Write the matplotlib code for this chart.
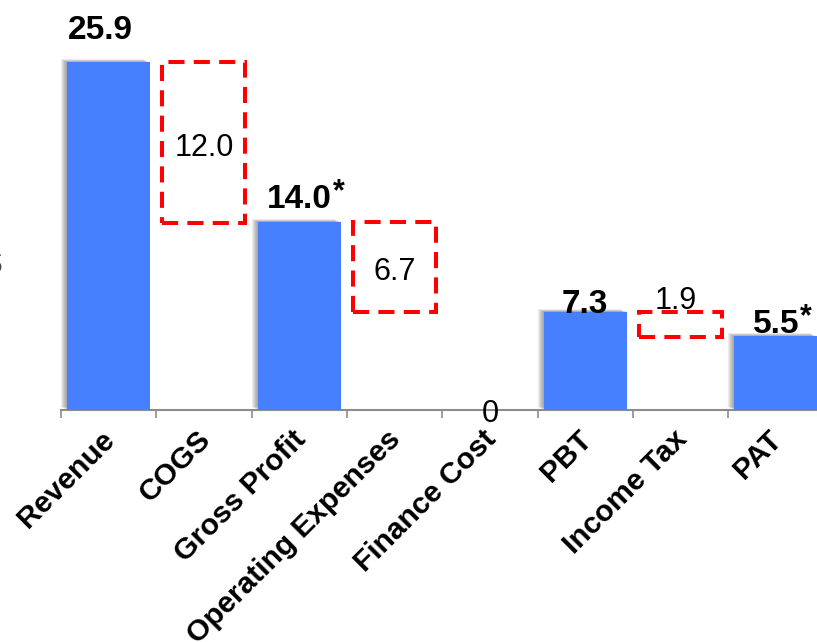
import matplotlib
matplotlib.use("Agg")
import matplotlib.pyplot as plt
from matplotlib.patches import Rectangle
from matplotlib import patheffects as pe
from matplotlib.transforms import ScaledTranslation, offset_copy

plt.rcParams['font.family'] = ['Liberation Sans', 'DejaVu Sans']

# P&L walk (bn)
categories = ['Revenue', 'COGS', 'Gross Profit', 'Operating Expenses',
              'Finance Cost', 'PBT', 'Income Tax', 'PAT']
values = [25.9, 12.0, 14.0, 6.7, 0.0, 7.3, 1.9, 5.5]
kinds = ['total', 'minus', 'total', 'minus', 'minus', 'total', 'minus', 'total']
footnote_marks = ['', '', '*', '', '', '', '', '*']

# label placement (pixels): lift above bar top and horizontal nudge
total_label_lift = [23, 0, 14, 0, 0, -1, 0, 3]
total_label_shift = [-8, 0, 0, 0, 0, 0, 0, 0]

BLUE = '#4680FF'
RED = '#FF0000'
AXIS_GREY = '#8c8c8c'
PX = 72 / 100  # points per pixel at dpi 100

W, H = 817, 642
fig = plt.figure(figsize=(W / 100, H / 100), dpi=100)
slot = 95.3
ax = fig.add_axes([61 / W, 232 / H, 8 * slot / W, 403 / H])
ax.set_xlim(-0.5, 7.5)
ax.set_ylim(0, 30)

bar_w = 0.87
shadow = [pe.SimplePatchShadow(offset=(-k * PX, 0.45 * k * PX), shadow_rgbFace='0.35', alpha=0.11)
          for k in range(1, 7)] + [pe.Normal()]

level = 0.0
for i, (v, kind) in enumerate(zip(values, kinds)):
    if kind == 'total':
        bar = ax.bar(i, v, width=bar_w, color=BLUE, zorder=3)[0]
        bar.set_path_effects(shadow)
        level = v
        tr = offset_copy(ax.transData, fig=fig,
                         x=total_label_shift[i] * PX, y=total_label_lift[i] * PX, units='points')
        t = ax.text(i, v, f'{v:.1f}', transform=tr, ha='center', va='baseline',
                    fontsize=24, fontweight='bold', color='black', zorder=5)
        if footnote_marks[i]:
            ax.annotate(footnote_marks[i], xy=(1, 1), xycoords=t, xytext=(1.0, 5.0),
                        textcoords='offset points', ha='left', va='top',
                        fontsize=22, fontweight='bold', color='black', zorder=5)
    else:
        top = level
        bottom = level - v
        if v > 0:
            ax.add_patch(Rectangle((i - bar_w / 2, bottom), bar_w, v, fill=False,
                                   edgecolor=RED, linewidth=2.9,
                                   linestyle=(0, (4.0, 2.3)), zorder=4))
        if v == 0:
            # nothing to draw; the value sits on the baseline
            tr = offset_copy(ax.transData, fig=fig, x=0, y=-12 * PX, units='points')
            ax.text(i, 0, f'{v:.0f}', transform=tr, ha='center', va='baseline',
                    fontsize=22, color='black', zorder=5)
        elif v < 3:
            tr = offset_copy(ax.transData, fig=fig, x=-5 * PX, y=3 * PX, units='points')
            ax.text(i, top, f'{v:.1f}', transform=tr, ha='center', va='baseline',
                    fontsize=22, color='black', zorder=5)
        else:
            tr = offset_copy(ax.transData, fig=fig, x=0, y=-13 * PX, units='points')
            ax.text(i, (top + bottom) / 2, f'{v:.1f}', transform=tr, ha='center',
                    va='baseline', fontsize=22, color='black', zorder=5)
        level = bottom

# axes styling
for side in ('left', 'right', 'top'):
    ax.spines[side].set_visible(False)
ax.spines['bottom'].set_color(AXIS_GREY)
ax.spines['bottom'].set_linewidth(1.5)
ax.set_yticks([])
ax.set_xticks(range(len(categories)))
ax.set_xticklabels(categories, fontsize=21.5, fontweight='bold')
ax.set_xticks([k - 0.5 for k in range(len(categories) + 1)], minor=True)
ax.tick_params(axis='x', which='major', length=0, pad=18)
ax.tick_params(axis='x', which='minor', length=8 * PX, width=1.2, color=AXIS_GREY, direction='out')
shift = ScaledTranslation(2 / 100, 0, fig.dpi_scale_trans)
for lbl in ax.get_xticklabels():
    lbl.set_rotation(45)
    lbl.set_ha('right')
    lbl.set_va('center')
    lbl.set_rotation_mode('anchor')
    lbl.set_transform(lbl.get_transform() + shift)

# currency sign at the left edge
fig.text(2 / W, 1 - 272 / H, '$', ha='right', va='baseline', fontsize=22, color='0.25')

fig.savefig('out.png', dpi=100)
